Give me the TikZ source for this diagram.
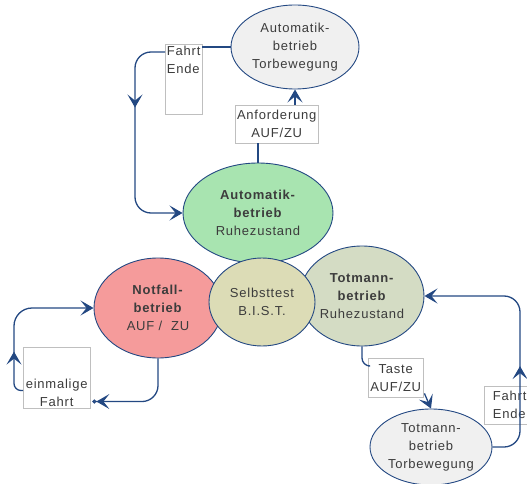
\documentclass[tikz,border=0pt]{standalone}
\usepackage{fontspec}
\setmainfont[LetterSpace=6]{Liberation Sans}
\usepackage{tikz}
\usetikzlibrary{calc,arrows.meta,positioning,shapes.geometric,decorations.markings}
\definecolor{linkblue}{RGB}{35,72,130}
\definecolor{textgrey}{RGB}{60,60,60}
\definecolor{autogreen}{RGB}{168,228,176}
\definecolor{notred}{RGB}{245,155,155}
\definecolor{testkhaki}{RGB}{220,220,182}
\definecolor{totgreen}{RGB}{212,220,196}
\definecolor{torgrey}{RGB}{240,240,240}

\begin{document}
\begin{tikzpicture}[x=1pt,y=-1pt]

\tikzset{state/.style={shape=ellipse,draw=linkblue,line width=0.9pt,inner sep=0pt,align=center,text=textgrey,font=\fontsize{13}{18}\selectfont},
labelbox/.style={draw=black!25,fill=white,inner sep=1.5pt,text=textgrey,font=\fontsize{13}{18}\selectfont},
conn/.style={draw=linkblue,line width=1.3pt,>={Stealth[length=13pt,width=15pt,inset=6pt]}},
midarrow/.style={postaction={decorate},decoration={markings,mark=at position #1 with {\arrow{>}}}}}

\useasboundingbox (0,0) rectangle (527,484);

% States
\node[state,fill=torgrey,minimum width=128pt,minimum height=84pt] (autoTor) at (295,47) {Automatik-\\betrieb\\Torbewegung};
\node[state,fill=autogreen,minimum width=150pt,minimum height=100pt] (autoRuhe) at (258,213) {\textbf{Automatik-}\\\textbf{betrieb}\\Ruhezustand};
\node[state,fill=notred,minimum width=128pt,minimum height=100pt] (notfall) at (158,308) {\textbf{Notfall-}\\\textbf{betrieb}\\AUF /\ \ ZU};
\node[state,fill=totgreen,minimum width=124pt,minimum height=100pt] (totRuhe) at (362,296) {\textbf{Totmann-}\\\textbf{betrieb}\\Ruhezustand};
\node[state,fill=testkhaki,minimum width=106pt,minimum height=88pt] (selbsttest) at (262,302) {Selbsttest\\B.I.S.T.};
\node[state,fill=torgrey,minimum width=122pt,minimum height=76pt] (totTor) at (431,447) {Totmann-\\betrieb\\Torbewegung};

% Label boxes
\node[labelbox,anchor=north west,align=left,minimum width=37pt] (fahrtEndeL) at (165,44) {Fahrt\\Ende\rule[-40pt]{0pt}{40pt}};
\node[labelbox,anchor=north west,align=center,minimum width=83pt,minimum height=38pt] (anfBox) at (235,105) {Anforderung\\AUF/ZU};
\node[labelbox,anchor=north west,align=center,minimum width=67pt] (einBox) at (23,347) {\rule{0pt}{40pt}einmalige\\Fahrt};
\node[labelbox,anchor=north west,align=center,minimum width=55pt,minimum height=39pt] (tasteBox) at (368,358) {Taste\\AUF/ZU};
\node[labelbox,anchor=north west,align=left,minimum width=51pt,minimum height=38pt] (fahrtEndeR) at (484,386) {Fahrt\\Ende};

% Rails
\coordinate (autoRail) at (135,130);
\coordinate (notRail) at (14,360);
\coordinate (totRail) at (520,370);

% Automatik loop
\draw[conn] (autoTor.west) -- (autoTor.west -| fahrtEndeL.east);
\draw[conn,->,midarrow=0.35] ($(fahrtEndeL.north west)+(0,8)$) [rounded corners=16pt] -| (autoRail) |- (autoRuhe.west);
\draw[conn] (autoRuhe.north) -- (autoRuhe.north |- anfBox.south);
\draw[conn,->] (anfBox.north -| autoTor.south) -- (autoTor.south);

% Notfall loop
\draw[conn,-{Stealth[length=13pt,width=15pt,inset=6pt] Circle[open,length=4pt,width=4pt]}] (notfall.south) [rounded corners=16pt] |- ($(einBox.south east)+(2,-7)$);
\draw[conn,->,midarrow=0.28] ($(einBox.south west)+(0,-18)$) [rounded corners=7pt] -| (notRail) [rounded corners=18pt] |- (notfall.west);

% Totmann loop
\draw[conn] (totRuhe.south) [rounded corners=8pt] |- ($(tasteBox.north west)+(0,8)$);
\draw[conn,->] ($(tasteBox.south east)+(1,-4)$) -- (totTor.north);
\draw[conn,->,midarrow=0.39] (totTor.east) [rounded corners=16pt] -| (totRail) |- (totRuhe.east);

\end{tikzpicture}
\end{document}
